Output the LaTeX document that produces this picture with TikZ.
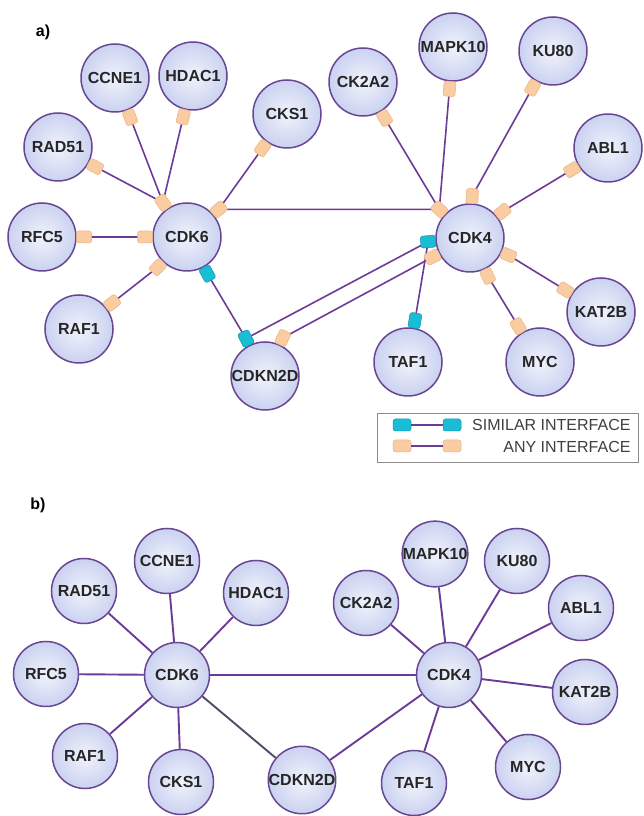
\documentclass[tikz,border=0pt]{standalone}
\usepackage{fontspec}
\setmainfont{Liberation Sans}
\usetikzlibrary{calc}

\definecolor{edge}{RGB}{108,58,152}
\definecolor{darkedge}{RGB}{88,72,104}
\definecolor{ring}{RGB}{104,70,148}
\definecolor{protin}{RGB}{240,243,252}
\definecolor{protout}{RGB}{203,210,240}
\definecolor{anyfill}{RGB}{249,204,162}
\definecolor{anyline}{RGB}{236,180,128}
\definecolor{simfill}{RGB}{26,190,212}
\definecolor{simline}{RGB}{14,150,176}

\begin{document}
\begin{tikzpicture}[x=1pt,y=1pt]
\tikzstyle{prot} = [circle, draw=ring, line width=1.5pt, inner color=protin, outer color=protout, minimum size=68pt, inner sep=0pt, text=black!85, font=\fontsize{16}{16}\selectfont\bfseries]
\tikzstyle{any} = [rectangle, rounded corners=2.5pt, minimum width=15pt, minimum height=12pt, inner sep=0pt, fill=anyfill, draw=anyline, line width=0.5pt]
\tikzstyle{sim} = [any, fill=simfill, draw=simline]
\tikzstyle{link} = [draw=edge, line width=1.6pt]
\tikzstyle{blink} = [draw=edge, line width=1.9pt]
\tikzstyle{panel} = [font=\fontsize{16}{16}\selectfont\bfseries]

\useasboundingbox (0,0) rectangle (644,816);

% a) interfaces
\node[panel] (la) at (43,784) {a)};

\foreach \n/\t/\x/\y in {cdk6/CDK6/187/579, cdk4/CDK4/470/578, cdkn2d/CDKN2D/265/440,
  ccne1/CCNE1/115/738, hdac1/HDAC1/193/740, rad51/RAD51/58/669, cks1/CKS1/287/702,
  rfc5/RFC5/42/579, raf1/RAF1/79/487, ck2a2/CK2A2/363/734, mapk10/MAPK10/453/769,
  ku80/KU80/553/765, abl1/ABL1/608/668, kat2b/KAT2B/601/504, myc/MYC/540/454, taf1/TAF1/408/454}
  \node[prot] (a-\n) at (\x,\y) {\t};

\def\sites{cdk6/c6top/125/any, cdk6/c6tr/41/any, cdk6/c6l/180/any, cdk6/c6ll/226/any, cdk6/c6sim/299/sim,
  cdk4/c4tl/137/any, cdk4/c4t/87/any, cdk4/c4tr/39/any, cdk4/c4sim/185/sim, cdk4/c4ll/207/any,
  cdk4/c4b/295/any, cdk4/c4r/336/any, cdkn2d/n2sim/117/sim, cdkn2d/n2any/65/any}

\foreach \hub/\n/\a/\kind in \sites
  \coordinate (a-\n) at ($(a-\hub)+(\a:42)$);

\foreach \leaf/\hub/\kind in {rad51/c6top/any, ccne1/c6top/any, hdac1/c6top/any, cks1/c6tr/any,
  rfc5/c6l/any, raf1/c6ll/any, ck2a2/c4tl/any, mapk10/c4tl/any, ku80/c4t/any, abl1/c4tr/any,
  kat2b/c4r/any, myc/c4b/any, taf1/c4sim/sim}
  \draw[link] ($(a-\leaf)!42pt!(a-\hub)$) -- (a-\hub) node[pos=0, sloped, \kind] {};

\draw[link] (a-c6tr) -- (a-c4tl);
\draw[link] (a-c6sim) -- (a-n2sim) -- (a-c4sim);
\draw[link] (a-n2any) -- (a-c4ll);

\foreach \hub/\n/\a/\kind in \sites
  \node[\kind, rotate=\a] (s-\n) at (a-\n) {};

% legend
\draw[black!45, line width=0.9pt, fill=white] (377,354) rectangle (638,403);
\node[sim, minimum width=18pt] (k1a) at (402,391) {};
\node[sim, minimum width=18pt] (k1b) at (452,391) {};
\node[any, minimum width=18pt] (k2a) at (402,370) {};
\node[any, minimum width=18pt] (k2b) at (452,370) {};
\draw[link] (k1a) -- (k1b);
\draw[link] (k2a) -- (k2b);
\node[anchor=east, text=black!75, font=\fontsize{16}{16}\selectfont] (t1) at (634,391) {SIMILAR INTERFACE};
\node[anchor=east, text=black!75, font=\fontsize{16}{16}\selectfont] (t2) at (634,369) {ANY INTERFACE};

% b) merged network
\node[panel] (lb) at (38,311) {b)};

\foreach \n/\t/\x/\y in {cdk6/CDK6/177/141, cdk4/CDK4/449/141, cdkn2d/CDKN2D/302/36,
  ccne1/CCNE1/167/255, hdac1/HDAC1/256/223, rad51/RAD51/84/225, cks1/CKS1/181/34,
  rfc5/RFC5/46/142, raf1/RAF1/85/60, ck2a2/CK2A2/366/213, mapk10/MAPK10/435/262,
  ku80/KU80/517/255, abl1/ABL1/581/208, kat2b/KAT2B/585/124, myc/MYC/528/49, taf1/TAF1/414/33}
  \node[prot, minimum size=65pt] (b-\n) at (\x,\y) {\t};

\foreach \leaf in {rad51, ccne1, hdac1, rfc5, raf1, cks1, cdk4}
  \draw[blink] (b-cdk6) -- (b-\leaf);
\foreach \leaf in {ck2a2, mapk10, ku80, abl1, kat2b, myc, taf1, cdkn2d}
  \draw[blink] (b-cdk4) -- (b-\leaf);
\draw[blink, draw=darkedge] (b-cdk6) -- (b-cdkn2d);

\end{tikzpicture}
\end{document}
